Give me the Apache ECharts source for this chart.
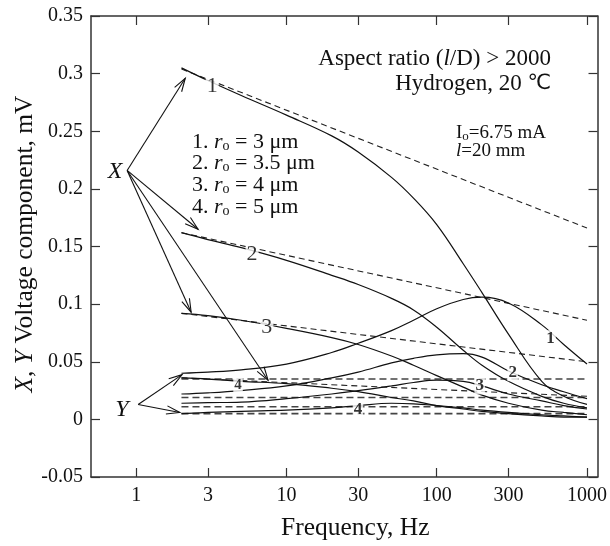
<!DOCTYPE html>
<html><head><meta charset="utf-8">
<script src="https://cdn.jsdelivr.net/npm/echarts@6/dist/echarts.min.js"></script>
<style>html,body{margin:0;padding:0;background:#fff}#c{width:610px;height:546px}</style>
</head><body><div id="c"></div>
<script>
// ---- data (frequency in Hz, voltage in mV) ----
const freq = [2, 3, 5, 10, 20, 30, 50, 70, 100, 150, 200, 300, 500, 700, 1000];
const xSolid1 = [0.305, 0.294, 0.281, 0.264, 0.246, 0.232, 0.210, 0.192, 0.169, 0.135, 0.110, 0.074, 0.033, 0.020, 0.013];
const xSolid2 = [0.162, 0.156, 0.149, 0.138, 0.125, 0.117, 0.105, 0.095, 0.080, 0.060, 0.047, 0.033, 0.020, 0.014, 0.010];
const xSolid3 = [0.092, 0.090, 0.086, 0.079, 0.071, 0.065, 0.055, 0.047, 0.038, 0.028, 0.021, 0.014, 0.008, 0.006, 0.004];
const xSolid4 = [0.036, 0.035, 0.033, 0.031, 0.027, 0.024, 0.019, 0.016, 0.012, 0.009, 0.007, 0.005, 0.003, 0.002, 0.002];
const ySolid1 = [0.040, 0.041, 0.043, 0.048, 0.058, 0.066, 0.077, 0.086, 0.096, 0.104, 0.106, 0.101, 0.082, 0.065, 0.048];
const ySolid2 = [0.022, 0.023, 0.025, 0.029, 0.036, 0.041, 0.049, 0.053, 0.056, 0.057, 0.054, 0.042, 0.030, 0.024, 0.018];
const ySolid3 = [0.014, 0.0145, 0.015, 0.018, 0.022, 0.025, 0.029, 0.032, 0.034, 0.033, 0.029, 0.022, 0.016, 0.012, 0.009];
const ySolid4 = [0.005, 0.006, 0.007, 0.008, 0.010, 0.012, 0.014, 0.0135, 0.012, 0.010, 0.008, 0.006, 0.004, 0.003, 0.002];

const dashFreq = [2, 1000];
const xDash1 = [0.304, 0.166];
const xDash2 = [0.162, 0.086];
const xDash3 = [0.092, 0.050];
const xDash4 = [0.036, 0.020];
const yDash1 = [0.035, 0.035];
const yDash2 = [0.019, 0.019];
const yDash3 = [0.011, 0.011];
const yDash4 = [0.005, 0.005];

const xTickValues = [1, 3, 10, 30, 100, 300, 1000];
const yMin = -0.05, yMax = 0.35, yStep = 0.05;

const curveLabelFreq = [3.2, 5.9, 7.4, 4.76, 572, 320, 193, 29.9];
const curveLabelVal = [0.289, 0.143, 0.080, 0.030, 0.070, 0.0405, 0.029, 0.0086];
const curveLabelText = ['1', '2', '3', '4', '1', '2', '3', '4'];

// arrows: origin (X / Y annotation) -> target on curve start
const arrowFromFreq = [0.87, 0.87, 0.87, 0.87, 1.03, 1.03];
const arrowFromVal = [0.216, 0.216, 0.216, 0.216, 0.0129, 0.0129];
const arrowToFreq = [2.12, 2.58, 2.32, 7.54, 2.02, 1.95];
const arrowToVal = [0.296, 0.165, 0.093, 0.034, 0.0388, 0.006];

// ---- build ----
const SERIF = '"Liberation Serif", "Times New Roman", serif';
const lg = Math.log10;
const toPts = (fs, vs) => fs.map((f, i) => [lg(f), vs[i]]);

const solidSets = [xSolid1, xSolid2, xSolid3, xSolid4, ySolid1, ySolid2, ySolid3, ySolid4];
const dashX = [xDash1, xDash2, xDash3, xDash4];
const dashY = [yDash1, yDash2, yDash3, yDash4];

const series = [];
solidSets.forEach(s => series.push({
  type: 'line', data: toPts(freq, s), smooth: 0.4, symbol: 'none', z: 3,
  lineStyle: { color: '#111', width: 1.2 }
}));
dashX.forEach(s => series.push({
  type: 'line', data: toPts(dashFreq, s), symbol: 'none', z: 2,
  lineStyle: { color: '#222', width: 1.1, type: [6, 4] }
}));
dashY.forEach(s => series.push({
  type: 'line', data: toPts(dashFreq, s), symbol: 'none', z: 2,
  lineStyle: { color: '#444', width: 1.6, type: [7, 4] }
}));
series.push({
  type: 'scatter', symbolSize: 0, z: 10,
  data: curveLabelFreq.map((f, i) => ({
    value: [lg(f), curveLabelVal[i]],
    label: {
      show: true, position: 'inside', formatter: curveLabelText[i],
      fontFamily: SERIF, color: '#000',
      fontSize: i < 3 ? 22 : (i === 3 ? 15 : 17),
      fontWeight: i < 3 ? 'normal' : 'bold',
      backgroundColor: '#fff', padding: [0, 1]
    }
  }))
});

const tickFmt = v => String(Math.round(Math.pow(10, v)));
const xCustom = xTickValues.map(lg);
const axisLineStyle = { color: '#333', width: 1.5 };
const tickStyle = { color: '#333', width: 1.2 };

const option = {
  animation: false,
  backgroundColor: '#fff',
  grid: { left: 91, right: 12, top: 16, bottom: 65, containLabel: false },
  xAxis: [{
    type: 'value', min: lg(0.5), max: lg(1175),
    axisLine: { onZero: false, lineStyle: axisLineStyle },
    axisTick: { inside: true, length: 9, customValues: xCustom, lineStyle: tickStyle },
    axisLabel: { customValues: xCustom, formatter: tickFmt, fontFamily: SERIF, fontSize: 20, color: '#111', margin: 9 },
    splitLine: { show: false },
    name: 'Frequency, Hz', nameLocation: 'middle', nameGap: 38,
    nameTextStyle: { fontFamily: SERIF, fontSize: 25.5, color: '#111', padding: [0, 0, 0, 22] }
  }, {
    type: 'value', position: 'top', min: lg(0.5), max: lg(1175),
    axisLine: { onZero: false, lineStyle: axisLineStyle },
    axisTick: { inside: true, length: 9, customValues: xCustom, lineStyle: tickStyle },
    axisLabel: { show: false }, splitLine: { show: false }
  }],
  yAxis: [{
    type: 'value', min: yMin, max: yMax, interval: yStep,
    axisLine: { show: true, onZero: false, lineStyle: axisLineStyle },
    axisTick: { show: true, inside: true, length: 9, lineStyle: tickStyle },
    axisLabel: { formatter: v => String(parseFloat(v.toFixed(2))), fontFamily: SERIF, fontSize: 20, color: '#111', margin: 8 },
    splitLine: { show: false }
  }, {
    type: 'value', position: 'right', min: yMin, max: yMax, interval: yStep,
    axisLine: { show: true, onZero: false, lineStyle: axisLineStyle },
    axisTick: { show: true, inside: true, length: 9, lineStyle: tickStyle },
    axisLabel: { show: false }, splitLine: { show: false }
  }],
  series: series
};

const chart = echarts.init(document.getElementById('c'), null, { renderer: 'canvas' });
chart.setOption(option);

// ---- annotations ----
const g = [];
const txt = (x, y, text, size, align, rich, extra) => g.push(Object.assign({
  type: 'text', z: 20,
  style: Object.assign({ x, y, text, font: size + 'px ' + SERIF, fill: '#111', align: align, verticalAlign: 'middle', rich: rich || {} }, extra || {})
}));
const it = sz => ({ fontFamily: SERIF, fontSize: sz, fontStyle: 'italic', fill: '#111' });
const sub = sz => ({ fontFamily: SERIF, fontSize: sz, fill: '#111', padding: [Math.round(sz * 0.6), 0, 0, 0] });

txt(551, 59, 'Aspect ratio ({i|l}/D) > 2000', 23, 'right', { i: it(23) });
txt(551, 84, 'Hydrogen, 20 {s|℃}', 23, 'right', { s: { fontFamily: '"DejaVu Sans", sans-serif', fontSize: 21, fill: '#111' } });
txt(456, 133, 'I{b|o}=6.75 mA', 19, 'left', { b: sub(13) });
txt(456, 151, '{i|l}=20 mm', 19, 'left', { i: it(19) });
const legVals = ['3', '3.5', '4', '5'];
legVals.forEach((v, i) => txt(192, 142 + i * 21.7, (i + 1) + '. {i|r}{b|o} = ' + v + ' μm', 22, 'left', { i: it(22), b: sub(14) }));
txt(115, 172, 'X', 24, 'center', null, { font: 'italic 24px ' + SERIF });
txt(122, 410, 'Y', 24, 'center', null, { font: 'italic 24px ' + SERIF });
g.push({
  type: 'text', z: 20, x: 25, y: 244, rotation: Math.PI / 2,
  style: { x: 0, y: 0, text: '{i|X}, {i|Y} Voltage component, mV', font: '25.5px ' + SERIF, fill: '#111', align: 'center', verticalAlign: 'middle', rich: { i: it(25.5) } }
});

arrowFromFreq.forEach((f, i) => {
  const p0 = chart.convertToPixel({ gridIndex: 0 }, [lg(f), arrowFromVal[i]]);
  const p1 = chart.convertToPixel({ gridIndex: 0 }, [lg(arrowToFreq[i]), arrowToVal[i]]);
  const ang = Math.atan2(p1[1] - p0[1], p1[0] - p0[0]);
  const L = 14, a = 0.3;
  const h1 = [p1[0] - L * Math.cos(ang - a), p1[1] - L * Math.sin(ang - a)];
  const h2 = [p1[0] - L * Math.cos(ang + a), p1[1] - L * Math.sin(ang + a)];
  g.push({ type: 'polyline', z: 15, shape: { points: [p0, p1] }, style: { stroke: '#111', lineWidth: 1.1, fill: null } });
  g.push({ type: 'polyline', z: 15, shape: { points: [h1, p1, h2] }, style: { stroke: '#111', lineWidth: 1.1, fill: null } });
});

chart.setOption({ graphic: g });
</script>
</body></html>
